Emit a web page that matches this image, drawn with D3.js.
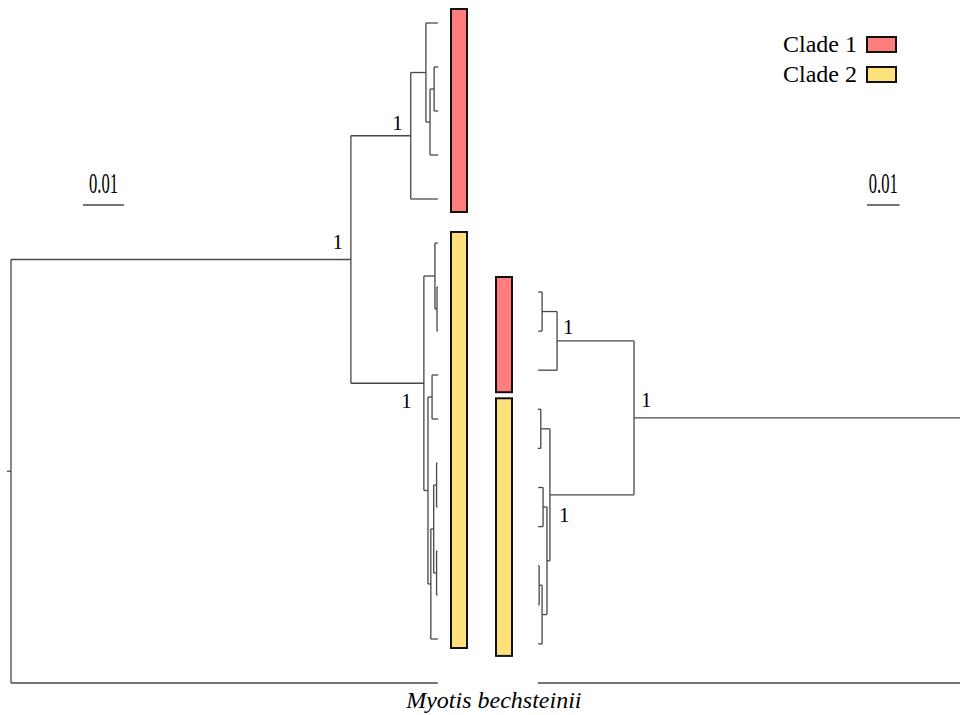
<!DOCTYPE html>
<html>
<head>
<meta charset="utf-8">
<script src="https://cdn.jsdelivr.net/npm/d3@7"></script>
<style>
	body { margin: 0; background: #fff; }
	svg { display: block; font-family: "Liberation Serif", "Times New Roman", serif; }
	.branch { fill: none; stroke: #474747; stroke-width: 1.3; }
	.bar { stroke: #111; stroke-width: 2; }
</style>
</head>
<body>
<div class="container"></div>
<script>

// [node, parent, branch length]
const leftTree = [
	["root", null, 0],
	["ingroup", "root", 0.0829],
	["c1", "ingroup", 0.0146],
	["n1a", "c1", 0.0037],
	["t1", "n1a", 0.0029],
	["n1b", "n1a", 0.0010],
	["n1c", "n1b", 0.0010],
	["t2", "n1c", 0.0010],
	["t3", "n1c", 0.0010],
	["t4", "n1b", 0.0020],
	["t5", "c1", 0.0066],
	["c2", "ingroup", 0.0178],
	["n2a", "c2", 0.0027],
	["t6", "n2a", 0.0007],
	["n2b", "n2a", 0.0005],
	["t7", "n2b", 0.0002],
	["t8", "n2b", 0.0002],
	["n2c", "c2", 0.0010],
	["n2d", "n2c", 0.0010],
	["t9", "n2d", 0.0015],
	["t10", "n2d", 0.0015],
	["n2e", "n2c", 0.0007],
	["n2f", "n2e", 0.0007],
	["n2g", "n2f", 0.0007],
	["t11", "n2g", 0.0002],
	["t12", "n2g", 0.0002],
	["n2h", "n2f", 0.0007],
	["t13", "n2h", 0.0002],
	["t14", "n2h", 0.0002],
	["t15", "n2e", 0.0017],
	["out", "root", 0.1041]
];

const rightTree = [
	["root", null, 0],
	["ingroup", "root", 0.1003],
	["r1", "ingroup", 0.0236],
	["m1a", "r1", 0.0046],
	["s1", "m1a", 0.0012],
	["s2", "m1a", 0.0012],
	["s3", "r1", 0.0058],
	["r2", "ingroup", 0.0258],
	["m2a", "r2", 0.0028],
	["s4", "m2a", 0.0009],
	["s5", "m2a", 0.0009],
	["m2b", "r2", 0.0009],
	["m2c", "m2b", 0.0012],
	["s6", "m2c", 0.0015],
	["s7", "m2c", 0.0015],
	["m2d", "m2b", 0.0015],
	["m2e", "m2d", 0.0009],
	["s8", "m2e", 0.0003],
	["s9", "m2e", 0.0003],
	["s10", "m2d", 0.0012],
	["out", "root", 0.1298]
];

const leftSupport = [["ingroup", "1"], ["c1", "1"], ["c2", "1"]];
const rightSupport = [["ingroup", "1"], ["r1", "1"], ["r2", "1"]];

const cladeNames = ["Clade 1", "Clade 2"];
const leftClades = ["c1", "c2"];
const rightClades = ["r1", "r2"];

const scaleBarValue = 0.01;
const outgroupName = "Myotis bechsteinii";

// layout / style
const width = 960, height = 715;
const cladeColors = ["#ff7d7d", "#ffe17c"];

const layout = {
	left: {
		x: d3.scaleLinear().domain([0, 0.1]).range([11, 421]),
		y: [23, 683],
		bar: [451, 16],
		barPad: [[14, 13], [11, 9]],
		label: { ingroup: [-8, -11, "end"], c1: [-8, -6, "end"], c2: [-12, 25, "end"] },
		scaleBar: [83, 205]
	},
	right: {
		x: d3.scaleLinear().domain([0, 0.1]).range([961, 635]),
		y: [292, 683],
		bar: [496, 16],
		barPad: [[15, 22], [11, 12]],
		label: { ingroup: [7, -11, "start"], r1: [6, -7, "start"], r2: [9, 27, "start"] },
		scaleBar: [867, 205]
	}
};

const svg = d3.select(".container")
	.append("svg")
		.attr("width", width)
		.attr("height", height);

function buildTree(rows, conf) {

	const root = d3.stratify()
		.id(d => d[0])
		.parentId(d => d[1])(rows);

	root.eachBefore(n => n.len = n.parent ? n.parent.len + n.data[2] : 0);

	const tipY = d3.scalePoint()
		.domain(root.leaves().map(d => d.id))
		.range(conf.y);

	root.eachAfter(n => n.py = n.children ? d3.mean(n.children, c => c.py) : tipY(n.id));
	root.each(n => n.px = conf.x(n.len));

	return root;
}

function drawTree(rows, conf, support, clades) {

	const root = buildTree(rows, conf);
	const g = svg.append("g");

	g.selectAll("path.h")
		.data(root.descendants().filter(n => n.parent))
			.enter()
		.append("path")
			.attr("class", "branch h")
			.attr("d", n => `M${ n.parent.px },${ n.py }H${ n.px }`);

	g.selectAll("path.v")
		.data(root.descendants().filter(n => n.children))
			.enter()
		.append("path")
			.attr("class", "branch v")
			.attr("d", n => `M${ n.px },${ n.children[0].py }V${ n.children[n.children.length - 1].py }`);

	// clade bars
	clades.forEach((id, i) => {
		const node = root.find(n => n.id === id);
		const ext = d3.extent(node.leaves(), l => l.py);
		const pad = conf.barPad[i];
		g.append("rect")
			.attr("class", "bar")
			.attr("x", conf.bar[0])
			.attr("width", conf.bar[1])
			.attr("y", ext[0] - pad[0])
			.attr("height", ext[1] - ext[0] + pad[0] + pad[1])
			.attr("fill", cladeColors[i]);
	});

	// support values
	g.selectAll("text.support")
		.data(support)
			.enter()
		.append("text")
			.attr("class", "support")
			.attr("font-size", 21)
			.attr("text-anchor", d => conf.label[d[0]][2])
			.attr("x", d => root.find(n => n.id === d[0]).px + conf.label[d[0]][0])
			.attr("y", d => root.find(n => n.id === d[0]).py + conf.label[d[0]][1])
			.text(d => d[1]);

	// scale bar
	const barLen = Math.abs(conf.x(scaleBarValue) - conf.x(0));
	const sb = g.append("g")
		.attr("transform", `translate(${ conf.scaleBar[0] }, ${ conf.scaleBar[1] })`);
	sb.append("line")
		.attr("class", "branch")
		.attr("x2", barLen);
	sb.append("text")
		.attr("x", barLen / 2 - 14.5)
		.attr("y", -12)
		.attr("font-size", 30)
		.attr("textLength", 29)
		.attr("lengthAdjust", "spacingAndGlyphs")
		.text(scaleBarValue);

	return root;
}

const leftRoot = drawTree(leftTree, layout.left, leftSupport, leftClades);
const rightRoot = drawTree(rightTree, layout.right, rightSupport, rightClades);

// root stem of left tree
svg.append("path")
	.attr("class", "branch")
	.attr("d", `M${ leftRoot.px - 4 },${ leftRoot.py }H${ leftRoot.px }`);

// outgroup name, centred between the two tips
const outL = leftRoot.find(n => n.id === "out");
const outR = rightRoot.find(n => n.id === "out");
svg.append("text")
	.attr("x", (outL.px + outR.px) / 2 + 6)
	.attr("y", outL.py + 25)
	.attr("text-anchor", "middle")
	.attr("font-size", 24)
	.attr("font-style", "italic")
	.text(outgroupName);

// legend
const legend = svg.selectAll("g.legend")
	.data(cladeNames)
		.enter()
	.append("g")
		.attr("class", "legend")
		.attr("transform", (d, i) => `translate(867, ${ 37 + i * 30 })`);

legend.append("rect")
	.attr("class", "bar")
	.attr("width", 29)
	.attr("height", 15)
	.attr("fill", (d, i) => cladeColors[i]);

legend.append("text")
	.attr("x", -10)
	.attr("y", 15)
	.attr("text-anchor", "end")
	.attr("font-size", 24)
	.text(d => d);

</script>
</body>
</html>
